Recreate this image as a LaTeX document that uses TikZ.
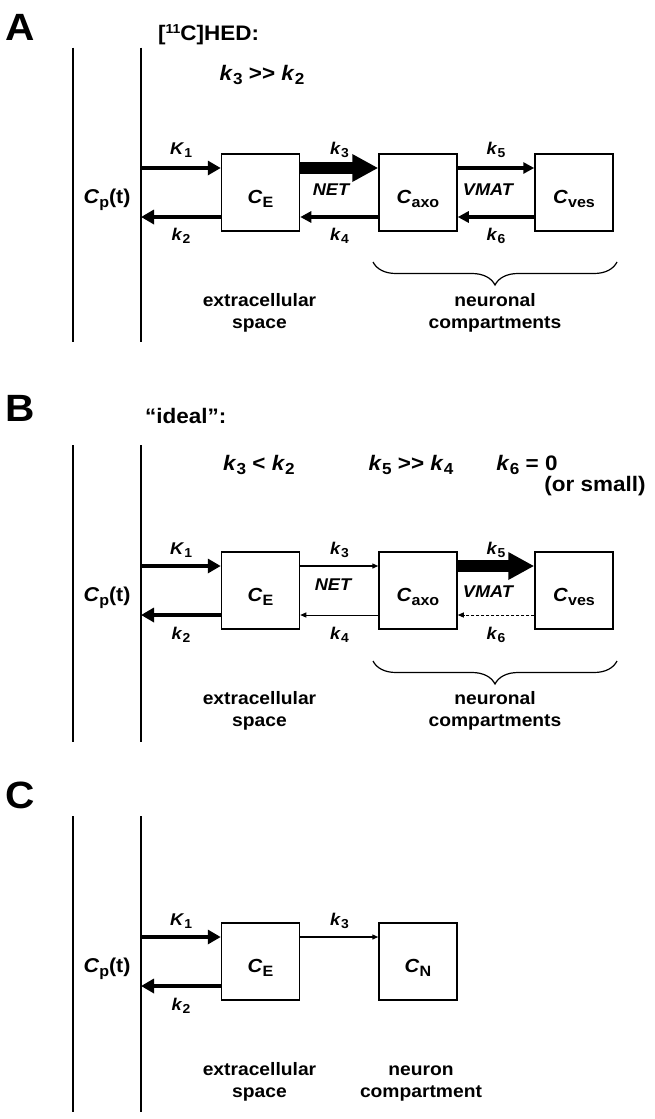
\documentclass[tikz,border=0pt]{standalone}
\usepackage{fontspec}
\setmainfont{Liberation Sans}[FakeStretch=1.07]
\usetikzlibrary{arrows.meta,decorations.pathreplacing,calc}
\newcommand\kl[2]{\textit{#1}\raisebox{-3.5pt}{\fontsize{13}{13}\selectfont #2}}
\newcommand\kc[2]{\textit{#1}\raisebox{-4.5pt}{\fontsize{16}{16}\selectfont #2}}
\newcommand\cb[1]{\textit{C}\raisebox{-4.5pt}{\fontsize{15}{15}\selectfont #1}}
\newcommand\mygtgt{\mbox{>}\mbox{>}}
\tikzset{
 cmp/.style={draw, line width=1.5pt, minimum width=78pt, minimum height=77pt, inner sep=0pt,
   text height=21pt, text depth=0pt, font=\fontsize{19}{22}\selectfont\bfseries},
 cpl/.style={anchor=base, inner sep=0pt, font=\fontsize{20}{22}\selectfont\bfseries},
 bar/.style={line width=1.5pt},
 thk/.style={line width=4.5pt, -{Triangle[length=13pt,width=14pt]}},
 med/.style={line width=3.5pt, -{Triangle[length=11pt,width=11pt]}},
 big/.style={line width=12pt, -{Triangle[length=26pt,width=26pt]}},
 thn/.style={line width=1.3pt, -{Triangle[length=6pt,width=5pt]}},
 thnn/.style={line width=1pt, -{Triangle[length=6pt,width=5pt]}},
 dsh/.style={line width=1pt, dash pattern=on 3pt off 2pt, -{Triangle[length=6pt,width=5pt]}},
 klab/.style={anchor=base, inner sep=0pt, font=\fontsize{17}{20}\selectfont\bfseries},
 tr/.style={anchor=base, inner sep=0pt, font=\fontsize{17}{20}\selectfont\bfseries\itshape},
 cnd/.style={anchor=base, inner sep=0pt, font=\fontsize{21}{24}\selectfont\bfseries},
 desc/.style={anchor=base, inner sep=0pt, align=center, font=\fontsize{18}{22}\selectfont\bfseries},
 pan/.style={anchor=base west, inner sep=0pt, font=\fontsize{38}{40}\selectfont\bfseries},
 brc/.style={decorate, decoration={brace, amplitude=23pt, aspect=0.5}, line width=1.2pt},
}
\begin{document}
\begin{tikzpicture}[x=1pt,y=-1pt]
\useasboundingbox (0,0) rectangle (654,1119);
%% ---------------- Panel A ----------------
\node[pan] (A-lab) at (5,40) {A};
\node[cnd, anchor=base west] (A-hdr) at (158,40) {[\raisebox{7pt}{\fontsize{13}{13}\selectfont 11}C]HED:};
\node[cnd] (A-cond) at (262,80) {\kc{k}{3} \mygtgt{} \kc{k}{2}};
\coordinate (A-t1) at (73,47.7); \coordinate (A-b1) at (73,342);
\coordinate (A-t2) at (141,47.7); \coordinate (A-b2) at (141,342);
\draw[bar] (A-t1) -- (A-b1);
\draw[bar] (A-t2) -- (A-b2);
\node[cmp] (A-CE) at (260.5,192.5) {\cb{E}};
\node[cmp] (A-ax) at (418,192.5) {\cb{axo}};
\node[cmp] (A-ves) at (574,192.5) {\cb{ves}};
\node[cpl] (A-cp) at (107,203) {\textit{C}\raisebox{-4.5pt}{\fontsize{15}{15}\selectfont p}(t)};
\coordinate (A-in) at (141,168);
\coordinate (A-out) at (141,217);
\draw[thk] (A-in) -- (A-in -| A-CE.west);
\draw[thk] (A-CE.west |- A-out) -- (A-out);
\draw[big] (A-CE.east |- A-in) -- (A-ax.west |- A-in);
\draw[med] (A-ax.west |- A-out) -- (A-CE.east |- A-out);
\draw[med] (A-ax.east |- A-in) -- (A-ves.west |- A-in);
\draw[med] (A-ves.west |- A-out) -- (A-ax.east |- A-out);
\node[klab] (A-K1) at (181,154) {\kl{K}{1}};
\node[klab] (A-k2) at (181,240) {\kl{k}{2}};
\node[klab] (A-k3) at (339.5,154) {\kl{k}{3}};
\node[tr] (A-net) at (331,195) {NET};
\node[klab] (A-k4) at (339.5,240) {\kl{k}{4}};
\node[klab] (A-k5) at (496,154) {\kl{k}{5}};
\node[tr] (A-vmat) at (488,195) {VMAT};
\node[klab] (A-k6) at (496,240) {\kl{k}{6}};
\coordinate (A-br1) at (617,262); \coordinate (A-br2) at (373,262);
\draw[brc] (A-br1) -- (A-br2);
\node[desc] (A-ext) at (259.5,328) {extracellular\\space};
\node[desc] (A-neu) at (495,328) {neuronal\\compartments};
%% ---------------- Panel B ----------------
\node[pan] (B-lab) at (5,421) {B};
\node[cnd, anchor=base west] (B-hdr) at (145,423) {“ideal”:};
\node[cnd] (B-c1) at (259,470) {\kc{k}{3} < \kc{k}{2}};
\node[cnd] (B-c2) at (411,470) {\kc{k}{5} \mygtgt{} \kc{k}{4}};
\node[cnd] (B-c3) at (527,470) {\kc{k}{6} = 0};
\node[cnd] (B-c4) at (595,491) {(or small)};
\coordinate (B-t1) at (73,445); \coordinate (B-b1) at (73,742);
\coordinate (B-t2) at (141,445); \coordinate (B-b2) at (141,742);
\draw[bar] (B-t1) -- (B-b1);
\draw[bar] (B-t2) -- (B-b2);
\node[cmp] (B-CE) at (260.5,590.5) {\cb{E}};
\node[cmp] (B-ax) at (418,590.5) {\cb{axo}};
\node[cmp] (B-ves) at (574,590.5) {\cb{ves}};
\node[cpl] (B-cp) at (107,601) {\textit{C}\raisebox{-4.5pt}{\fontsize{15}{15}\selectfont p}(t)};
\coordinate (B-in) at (141,566);
\coordinate (B-out) at (141,615);
\draw[thk] (B-in) -- (B-in -| B-CE.west);
\draw[thk] (B-CE.west |- B-out) -- (B-out);
\draw[thn] (B-CE.east |- B-in) -- (B-ax.west |- B-in);
\draw[thnn] (B-ax.west |- B-out) -- (B-CE.east |- B-out);
\draw[big] (B-ax.east |- B-in) -- (B-ves.west |- B-in);
\draw[dsh] (B-ves.west |- B-out) -- (B-ax.east |- B-out);
\node[klab] (B-K1) at (181,554) {\kl{K}{1}};
\node[klab] (B-k2) at (181,639) {\kl{k}{2}};
\node[klab] (B-k3) at (339.5,554) {\kl{k}{3}};
\node[tr] (B-net) at (333,590) {NET};
\node[klab] (B-k4) at (339.5,639) {\kl{k}{4}};
\node[klab] (B-k5) at (496,554) {\kl{k}{5}};
\node[tr] (B-vmat) at (488,597) {VMAT};
\node[klab] (B-k6) at (496,639) {\kl{k}{6}};
\coordinate (B-br1) at (617,661); \coordinate (B-br2) at (373,661);
\draw[brc] (B-br1) -- (B-br2);
\node[desc] (B-ext) at (259.5,726) {extracellular\\space};
\node[desc] (B-neu) at (495,726) {neuronal\\compartments};
%% ---------------- Panel C ----------------
\node[pan] (C-lab) at (5,808) {C};
\coordinate (C-t1) at (73,816); \coordinate (C-b1) at (73,1112);
\coordinate (C-t2) at (141,816); \coordinate (C-b2) at (141,1112);
\draw[bar] (C-t1) -- (C-b1);
\draw[bar] (C-t2) -- (C-b2);
\node[cmp] (C-CE) at (260.5,961.5) {\cb{E}};
\node[cmp] (C-N) at (418,961.5) {\cb{N}};
\node[cpl] (C-cp) at (107,972) {\textit{C}\raisebox{-4.5pt}{\fontsize{15}{15}\selectfont p}(t)};
\coordinate (C-in) at (141,937);
\coordinate (C-out) at (141,986);
\draw[thk] (C-in) -- (C-in -| C-CE.west);
\draw[thk] (C-CE.west |- C-out) -- (C-out);
\draw[thn] (C-CE.east |- C-in) -- (C-N.west |- C-in);
\node[klab] (C-K1) at (181,925) {\kl{K}{1}};
\node[klab] (C-k2) at (181,1010) {\kl{k}{2}};
\node[klab] (C-k3) at (339.5,925) {\kl{k}{3}};
\node[desc] (C-ext) at (259.5,1097) {extracellular\\space};
\node[desc] (C-neu) at (421,1097) {neuron\\compartment};
\end{tikzpicture}
\end{document}
